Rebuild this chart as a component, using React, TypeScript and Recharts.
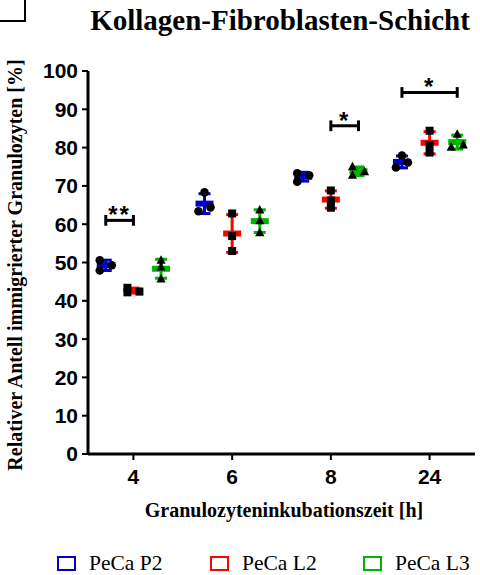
import React from 'react';
import { ScatterChart, Scatter, XAxis, YAxis, ErrorBar, ReferenceLine } from 'recharts';

const times = ['4', '6', '8', '24'];
const seriesNames = ['PeCa P2', 'PeCa L2', 'PeCa L3'];
const colors = ['#0000c8', '#ff0000', '#00b400'];
const markers = ['circle', 'square', 'triangle'];

// replicate values per time point
const p2Values = [
  [50.6, 49.3, 47.9],
  [68.3, 64.4, 63.4],
  [73.3, 72.8, 71.1],
  [77.9, 76.1, 74.8],
];
const l2Values = [
  [43.4, 42.4, 42.2],
  [62.8, 56.9, 53.0],
  [68.8, 66.2, 64.3],
  [84.4, 80.7, 78.7],
];
const l3Values = [
  [50.6, 48.8, 45.7],
  [63.7, 60.9, 57.8],
  [75.0, 73.7, 72.8],
  [83.5, 80.7, 80.1],
];
const allValues = [p2Values, l2Values, l3Values];

const yTicks = [0, 10, 20, 30, 40, 50, 60, 70, 80, 90, 100];

// significance: time index, from series, to series, height, label
const brackets = [
  { t: 0, a: 0, b: 1, y: 61, label: '**' },
  { t: 2, a: 1, b: 2, y: 85.7, label: '*' },
  { t: 3, a: 0, b: 2, y: 94.4, label: '*' },
];

const OFFSET = 0.28;
const TIE = 1.75;

const xPos = (t: number, s: number) => t + 1 + (s - 1) * OFFSET;

const mean = (v: number[]) => v.reduce((a, b) => a + b, 0) / v.length;
const sd = (v: number[]) => {
  const m = mean(v);
  return Math.sqrt(v.reduce((a, b) => a + (b - m) * (b - m), 0) / (v.length - 1));
};

// horizontal spread for points that would overlap
function spread(values: number[]) {
  const idx = values.map((_, i) => i).sort((a, b) => values[b] - values[a]);
  const dx = values.map(() => 0);
  const clusters: number[][] = [];
  idx.forEach((i, k) => {
    if (k > 0 && values[idx[k - 1]] - values[i] < TIE) clusters[clusters.length - 1].push(i);
    else clusters.push([i]);
  });
  clusters.forEach((c) => {
    if (c.length === 2) {
      dx[c[0]] = 6;
      dx[c[1]] = -6;
    }
    if (c.length === 3) {
      dx[c[0]] = -6;
      dx[c[1]] = 6;
      dx[c[2]] = -6;
    }
  });
  return dx;
}

const meanData = allValues.map((series, s) =>
  series.map((v, t) => ({ x: xPos(t, s), y: mean(v), sd: sd(v) }))
);

const pointData = allValues.map((series, s) =>
  series.flatMap((v, t) => {
    const dx = spread(v);
    return v.map((y, i) => ({ x: xPos(t, s), y, dx: dx[i] }));
  })
);

const bracketLabels = brackets.map((b) => ({
  x: (xPos(b.t, b.a) + xPos(b.t, b.b)) / 2,
  y: b.y,
  label: b.label,
}));

const MeanBar = (props: any) => {
  const { cx, cy, color } = props;
  if (cx == null || cy == null) return null;
  return <rect x={cx - 9} y={cy - 3} width={18} height={6} fill={color} />;
};

const Point = (props: any) => {
  const { cx, cy, payload, marker } = props;
  if (cx == null || cy == null) return null;
  const x = cx + (payload.dx || 0);
  if (marker === 'circle') return <circle cx={x} cy={cy} r={4.3} fill="#000" />;
  if (marker === 'square') return <rect x={x - 4} y={cy - 4} width={8} height={8} fill="#000" />;
  return <polygon points={`${x},${cy - 5} ${x + 4.6},${cy + 3.5} ${x - 4.6},${cy + 3.5}`} fill="#000" />;
};

const Stars = (props: any) => {
  const { cx, cy, payload } = props;
  if (cx == null || cy == null) return null;
  return (
    <text
      x={cx}
      y={cy + 3}
      textAnchor="middle"
      fontSize={24}
      fontWeight={700}
      letterSpacing={2}
      fontFamily="'Liberation Sans', Arial, sans-serif"
      fill="#000"
    >
      {payload.label}
    </text>
  );
};

const serif = "'Liberation Serif', 'Times New Roman', serif";
const sans = "'Liberation Sans', Arial, sans-serif";

const App: React.FC = () => {
  return (
    <div style={{ position: 'absolute', left: 0, top: 0, width: 480, height: 575, background: '#fff' }}>
      <div
        style={{
          position: 'absolute',
          left: 0,
          top: 0,
          width: 24,
          height: 20,
          borderRight: '2px solid #000',
          borderBottom: '2px solid #000',
        }}
      />
      <div
        style={{
          position: 'absolute',
          left: 80,
          top: 4,
          width: 400,
          textAlign: 'center',
          fontFamily: serif,
          fontWeight: 700,
          fontSize: 29,
          lineHeight: '32px',
          color: '#000',
        }}
      >
        Kollagen-Fibroblasten-Schicht
      </div>
      <div
        style={{
          position: 'absolute',
          left: 15,
          top: 265,
          transform: 'translate(-50%, -50%) rotate(-90deg)',
          whiteSpace: 'nowrap',
          fontFamily: serif,
          fontWeight: 700,
          fontSize: 20,
          color: '#000',
        }}
      >
        Relativer Antell immigrierter Granulozyten [%]
      </div>
      <div
        style={{
          position: 'absolute',
          left: 88,
          top: 498,
          width: 392,
          textAlign: 'center',
          fontFamily: serif,
          fontWeight: 700,
          fontSize: 20,
          lineHeight: '24px',
          color: '#000',
        }}
      >
        Granulozyteninkubationszeit [h]
      </div>
      {seriesNames.map((name, i) => (
        <div
          key={name}
          style={{
            position: 'absolute',
            left: 57 + i * 153,
            top: 552,
            display: 'flex',
            alignItems: 'center',
            fontFamily: serif,
            fontSize: 21.5,
            lineHeight: '22px',
            color: '#000',
          }}
        >
          <span
            style={{
              display: 'inline-block',
              width: 15,
              height: 11,
              border: `2.5px solid ${colors[i]}`,
              marginRight: 13,
            }}
          />
          <span>{name}</span>
        </div>
      ))}
      <div style={{ position: 'absolute', left: 0, top: 0 }}>
        <ScatterChart width={480} height={575} margin={{ top: 71, right: 5, bottom: 91, left: 48 }}>
          <XAxis
            type="number"
            dataKey="x"
            domain={[0.54, 4.46]}
            ticks={[1, 2, 3, 4]}
            allowDataOverflow
            tickFormatter={(v: number) => times[v - 1]}
            height={30}
            axisLine={{ stroke: '#000', strokeWidth: 3 }}
            tickLine={{ stroke: '#000', strokeWidth: 2 }}
            tickSize={6}
            tickMargin={9}
            tick={{ fill: '#000', fontSize: 21, fontWeight: 700, fontFamily: sans }}
          />
          <YAxis
            type="number"
            dataKey="y"
            domain={[0, 100]}
            ticks={yTicks}
            interval={0}
            width={40}
            axisLine={{ stroke: '#000', strokeWidth: 3 }}
            tickLine={{ stroke: '#000', strokeWidth: 2 }}
            tickSize={6}
            tickMargin={4}
            tick={{ fill: '#000', fontSize: 21, fontWeight: 700, fontFamily: sans }}
          />
          {brackets.map((b, i) => {
            const x1 = xPos(b.t, b.a);
            const x2 = xPos(b.t, b.b);
            return (
              <React.Fragment key={`br-${i}`}>
                <ReferenceLine segment={[{ x: x1, y: b.y }, { x: x2, y: b.y }]} stroke="#000" strokeWidth={3} />
                <ReferenceLine segment={[{ x: x1, y: b.y - 1.4 }, { x: x1, y: b.y + 1.4 }]} stroke="#000" strokeWidth={3} />
                <ReferenceLine segment={[{ x: x2, y: b.y - 1.4 }, { x: x2, y: b.y + 1.4 }]} stroke="#000" strokeWidth={3} />
              </React.Fragment>
            );
          })}
          {meanData.map((d, s) => (
            <Scatter
              key={`mean-${s}`}
              data={d}
              isAnimationActive={false}
              shape={(p: any) => <MeanBar {...p} color={colors[s]} />}
            >
              <ErrorBar dataKey="sd" direction="y" width={6} stroke={colors[s]} strokeWidth={3} isAnimationActive={false} />
            </Scatter>
          ))}
          {pointData.map((d, s) => (
            <Scatter
              key={`pts-${s}`}
              data={d}
              isAnimationActive={false}
              shape={(p: any) => <Point {...p} marker={markers[s]} />}
            />
          ))}
          <Scatter data={bracketLabels} isAnimationActive={false} shape={(p: any) => <Stars {...p} />} />
        </ScatterChart>
      </div>
    </div>
  );
};

export default App;
